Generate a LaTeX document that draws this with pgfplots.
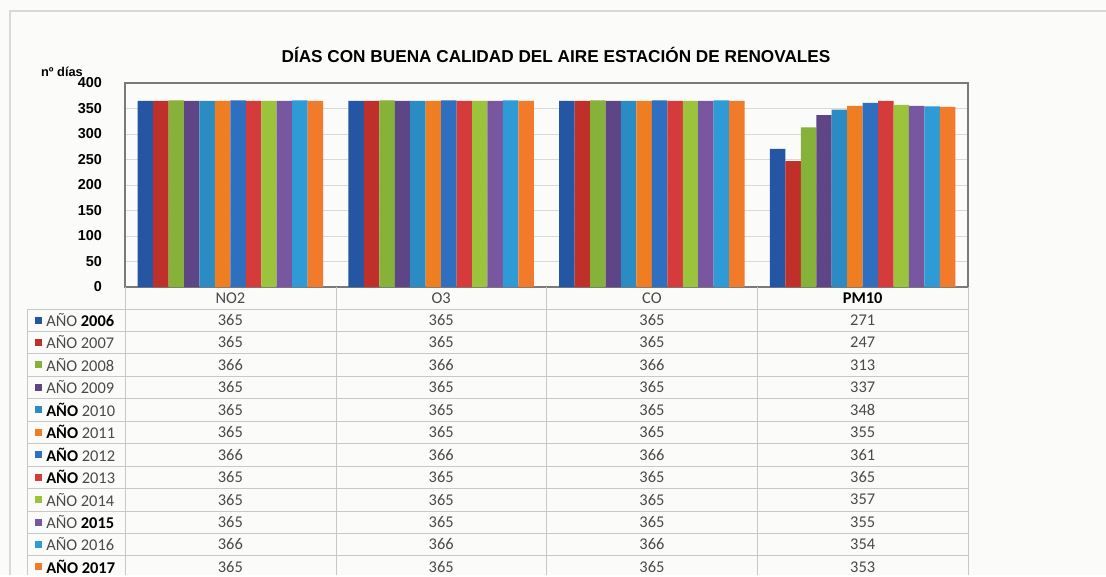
\documentclass[border=0pt]{standalone}
\usepackage{fontspec}
\setmainfont{Carlito}
\newfontfamily\arial{Liberation Sans}
\usepackage{pgfplots}
\usepackage{pgfplotstable}
\pgfplotsset{compat=1.18}

\definecolor{c2006}{HTML}{2456A4}
\definecolor{c2007}{HTML}{C0302B}
\definecolor{c2008}{HTML}{86B23A}
\definecolor{c2009}{HTML}{5E4585}
\definecolor{c2010}{HTML}{2B8CC4}
\definecolor{c2011}{HTML}{EF7D22}
\definecolor{c2012}{HTML}{2F6FC0}
\definecolor{c2013}{HTML}{D53B3B}
\definecolor{c2014}{HTML}{9BC33C}
\definecolor{c2015}{HTML}{7957A0}
\definecolor{c2016}{HTML}{2E9AD6}
\definecolor{c2017}{HTML}{F27B2B}
\definecolor{paper}{HTML}{FBFBF9}
\definecolor{framegray}{HTML}{D8D8D8}
\definecolor{axisgray}{HTML}{7A7A7A}
\definecolor{gridgray}{HTML}{D9D9D9}
\definecolor{tablegray}{HTML}{C8C8C8}
\definecolor{txtgray}{HTML}{4A4A4A}

% rows: NO2, O3, CO, PM10 -- columns: years
\pgfplotstableread{
x y2006 y2007 y2008 y2009 y2010 y2011 y2012 y2013 y2014 y2015 y2016 y2017
1 365 365 366 365 365 365 366 365 365 365 366 365
2 365 365 366 365 365 365 366 365 365 365 366 365
3 365 365 366 365 365 365 366 365 365 365 366 365
4 271 247 313 337 348 355 361 365 357 355 354 353
}\renovales

\newcommand\fmt[2]{\ifnum#1=1 {\bfseries\color{black}#2}\else{\color{txtgray}#2}\fi}

\begin{document}
\begin{tikzpicture}
\begin{scope}[x=0.75pt,y=0.75pt]
\fill[paper] (0,0) rectangle (1106,575);
\useasboundingbox (0,0) rectangle (1106,575);
\draw[framegray,line width=0.8pt] (10,0) -- (10,564) -- (1106,564);

\node[font=\arial\bfseries\fontsize{12.9}{14}\selectfont] at (556,520)
  {DÍAS CON BUENA CALIDAD DEL AIRE ESTACIÓN DE RENOVALES};
\node[font=\arial\bfseries\fontsize{9.6}{10}\selectfont] at (62,503) {nº días};
\end{scope}

\begin{axis}[
 at={(93.75pt,216pt)},anchor=south west,scale only axis,
 width=632.25pt,height=153pt,
 xmin=0.5,xmax=4.5,ymin=0,ymax=400,
 ytick={0,50,...,400},xtick=\empty,
 ybar=0pt,bar width=0.0733,
 ymajorgrids,grid style={draw=gridgray,line width=0.6pt},
 axis line style={draw=axisgray,line width=0.8pt},
 major tick length=0pt,
 /pgf/number format/assume math mode=true,
 yticklabel style={font=\arial\bfseries\fontsize{10.8}{12}\selectfont,xshift=-13.75pt},
 clip=false]
\pgfplotsinvokeforeach{2006,2007,2008,2009,2010,2011,2012,2013,2014,2015,2016,2017}{
 \addplot[draw=none,fill=c#1] table[x=x,y=y#1]{\renovales};
}
\end{axis}

\begin{scope}[x=0.75pt,y=0.75pt]
% data table below the chart
\foreach \k in {0,...,11}
  \draw[tablegray,line width=0.7pt] (27,{266-22.45*\k}) -- (968,{266-22.45*\k});
\foreach \xx in {125,336,546,757,968}
  \draw[tablegray,line width=0.7pt] (\xx,288) -- (\xx,0);
\draw[tablegray,line width=0.7pt] (27,266) -- (27,0);

\foreach \lab [count=\i from 0] in {NO2,O3,CO,{\bfseries\color{black}PM10}}
  \node[font=\fontsize{12.3}{14}\selectfont,text=txtgray] at ({230.4+210.75*\i},277) {\lab};

\foreach \c in {0,...,3}{
 \foreach \r in {0,...,11}{
  \pgfmathtruncatemacro\yr{2006+\r}
  \pgfplotstablegetelem{\c}{y\yr}\of\renovales
  \node[font=\fontsize{12.3}{14}\selectfont,text=txtgray] at ({230.4+210.75*\c},{255-22.45*\r}) {\pgfplotsretval};
 }
}

\foreach \yr/\fa/\fb [count=\r from 0] in {2006/0/1,2007/0/0,2008/0/0,2009/0/0,2010/1/0,2011/1/0,
   2012/1/0,2013/1/0,2014/0/0,2015/0/1,2016/0/0,2017/1/1}{
 \fill[c\yr] (35,{255-22.45*\r-3.5}) rectangle (42,{255-22.45*\r+3.5});
 \node[anchor=west,inner sep=0pt,font=\fontsize{12.3}{14}\selectfont] at (46,{255-22.45*\r})
   {\fmt{\fa}{AÑO} \fmt{\fb}{\yr}};
}
\end{scope}
\end{tikzpicture}
\end{document}
